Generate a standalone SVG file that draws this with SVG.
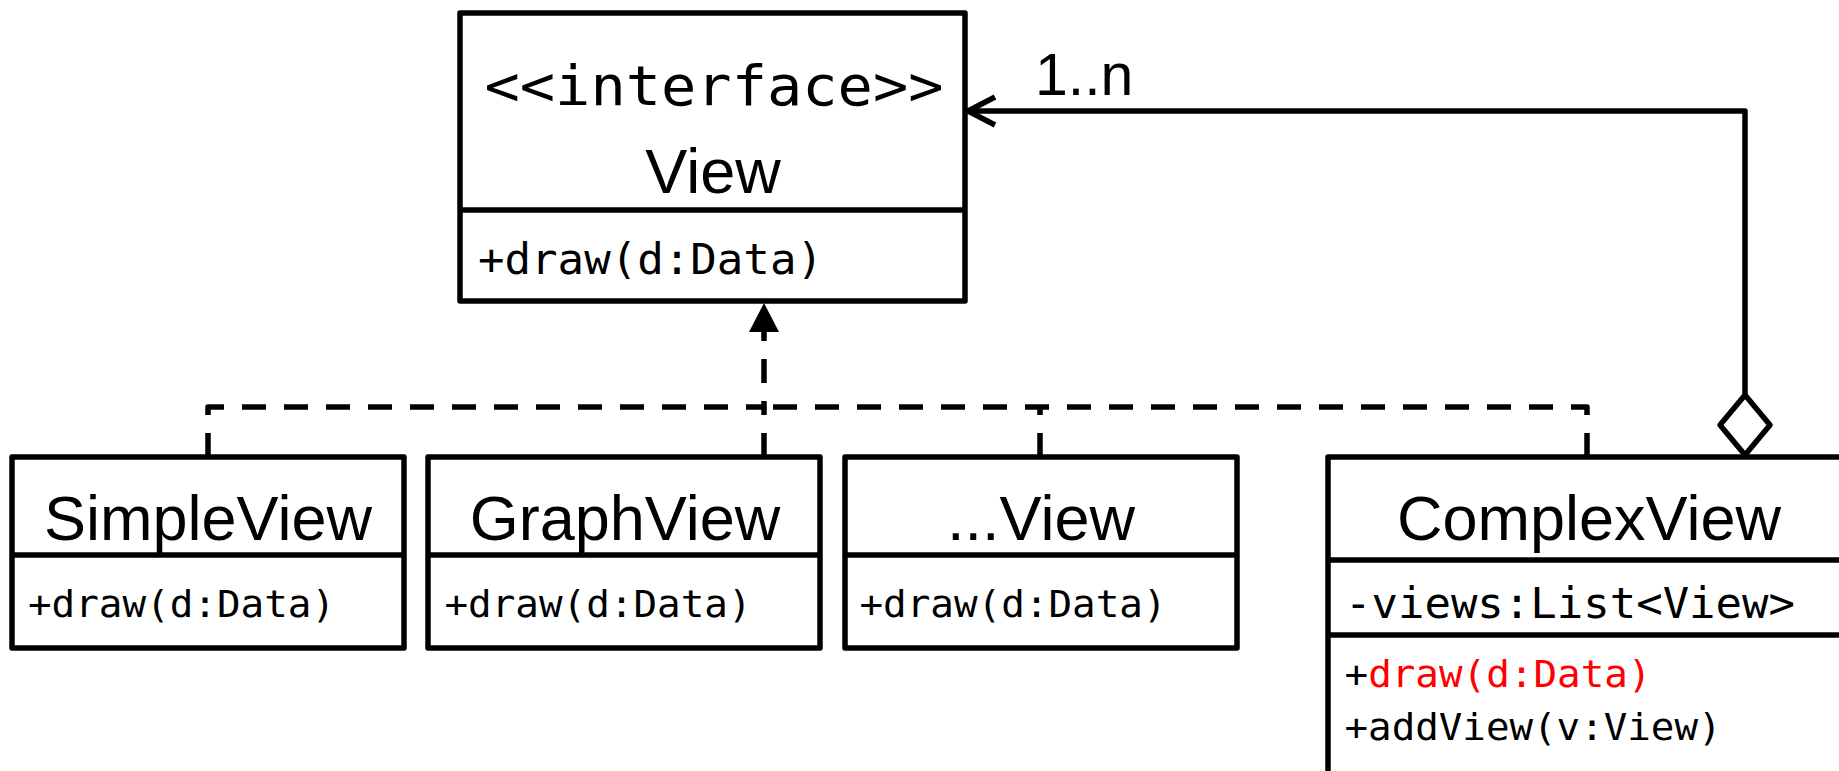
<svg xmlns="http://www.w3.org/2000/svg" width="1839" height="771" viewBox="0 0 1839 771">
  <style>
    .box { fill: #fff; stroke: #000; stroke-width: 5.5; stroke-linejoin: round; }
    .sep { stroke: #000; stroke-width: 5.5; }
    .title { font-family: "Liberation Sans", Arial, sans-serif; font-size: 63px; text-anchor: middle; fill: #000; }
    .mono { font-family: "DejaVu Sans Mono", "Liberation Mono", monospace; fill: #000; }
    .edge { fill: none; stroke: #000; stroke-width: 5.5; stroke-linejoin: round; }
    .dashed { stroke-dasharray: 24 18; }
    .red { fill: #ff0000; }
  </style>
  <defs>
    <!-- filled triangle: realization (implements) -->
    <marker id="realize" markerUnits="userSpaceOnUse" viewBox="0 0 29 30" markerWidth="29" markerHeight="30" refX="0" refY="15" orient="auto">
      <path d="M0,0 L29,15 L0,30 Z" fill="#000"/>
    </marker>
  </defs>

  <rect width="1839" height="771" fill="#fff"/>

  <!-- connectors -->
  <g id="connectors">
    <!-- realization tree: children join the bus at y=407, one trunk rises to View -->
    <path class="edge dashed" d="M208,457 V407 H764 V332" marker-end="url(#realize)"/>
    <path class="edge dashed" d="M764,457 V407"/>
    <path class="edge dashed" d="M1040,457 V407"/>
    <path class="edge dashed" d="M1587,457 V407 H764"/>
    <!-- aggregation ComplexView -> View, multiplicity 1..n -->
    <path class="edge" d="M1745,395 V111 H970"/>
    <polyline class="edge" points="995,97 968,111 995,125" stroke-linejoin="miter"/>
    <polygon class="edge" points="1745,395 1770,425 1745,455 1720,425" fill="#fff"/>
    <text x="1035" y="95" font-family="Liberation Sans, Arial, sans-serif" font-size="59">1..n</text>
  </g>

  <!-- interface View -->
  <g id="view">
    <rect class="box" x="460" y="13" width="505" height="288"/>
    <line class="sep" x1="460" y1="210" x2="965" y2="210"/>
    <text class="mono" x="714" y="105" font-size="56" text-anchor="middle" textLength="459" lengthAdjust="spacingAndGlyphs">&lt;&lt;interface&gt;&gt;</text>
    <text class="title" x="713" y="193" font-size="62">View</text>
    <text class="mono" x="478" y="274" font-size="42" textLength="345" lengthAdjust="spacingAndGlyphs">+draw(d:Data)</text>
  </g>

  <!-- SimpleView -->
  <g id="simple-view">
    <rect class="box" x="12" y="457" width="392" height="191"/>
    <line class="sep" x1="12" y1="555" x2="404" y2="555"/>
    <text class="title" x="208" y="540">SimpleView</text>
    <text class="mono" x="28" y="617" font-size="38" textLength="307" lengthAdjust="spacingAndGlyphs">+draw(d:Data)</text>
  </g>

  <!-- GraphView -->
  <g id="graph-view">
    <rect class="box" x="428" y="457" width="392" height="191"/>
    <line class="sep" x1="428" y1="555" x2="820" y2="555"/>
    <text class="title" x="625" y="540">GraphView</text>
    <text class="mono" x="444.5" y="617" font-size="38" textLength="307" lengthAdjust="spacingAndGlyphs">+draw(d:Data)</text>
  </g>

  <!-- ...View -->
  <g id="other-view">
    <rect class="box" x="845" y="457" width="392" height="191"/>
    <line class="sep" x1="845" y1="555" x2="1237" y2="555"/>
    <text class="title" x="1041" y="540">...View</text>
    <text class="mono" x="859.5" y="617" font-size="38" textLength="307" lengthAdjust="spacingAndGlyphs">+draw(d:Data)</text>
  </g>

  <!-- ComplexView (composite) -->
  <g id="complex-view">
    <rect class="box" x="1328" y="457" width="530" height="340"/>
    <line class="sep" x1="1328" y1="560" x2="1858" y2="560"/>
    <line class="sep" x1="1328" y1="635" x2="1858" y2="635"/>
    <text class="title" x="1589" y="540">ComplexView</text>
    <text class="mono" x="1345" y="618" font-size="43" textLength="450" lengthAdjust="spacingAndGlyphs">-views:List&lt;View&gt;</text>
    <text class="mono" x="1344.5" y="687" font-size="38" textLength="307" lengthAdjust="spacingAndGlyphs">+<tspan class="red">draw(d:Data)</tspan></text>
    <text class="mono" x="1344.5" y="740" font-size="38" textLength="377" lengthAdjust="spacingAndGlyphs">+addView(v:View)</text>
  </g>
</svg>
